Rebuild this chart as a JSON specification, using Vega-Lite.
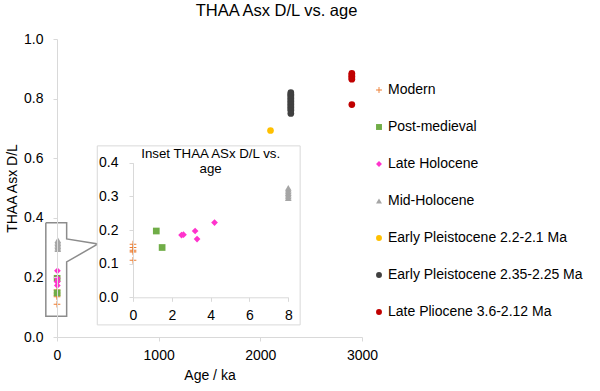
{
  "$schema": "https://vega.github.io/schema/vega-lite/v6.json",
  "width": 305,
  "height": 298,
  "autosize": {"type": "none"},
  "padding": {"left": 57, "top": 39, "right": 238, "bottom": 54},
  "background": "white",
  "config": {
    "font": "Liberation Sans",
    "view": {"stroke": null},
    "axis": {
      "grid": false,
      "domainColor": "#d9d9d9",
      "tickColor": "#d9d9d9",
      "tickSize": 4,
      "labelFontSize": 14,
      "labelColor": "#000000",
      "titleFontSize": 14,
      "titleFontWeight": "normal",
      "titleColor": "#000000",
      "labelFont": "Liberation Sans",
      "titleFont": "Liberation Sans",
      "labelFlush": false,
      "labelOverlap": false,
      "zindex": 2
    },
    "legend": {
      "orient": "none",
      "legendX": 315,
      "legendY": 44,
      "labelFontSize": 14,
      "labelColor": "#000000",
      "labelFont": "Liberation Sans",
      "labelLimit": 0,
      "symbolSize": 35,
      "rowPadding": 23,
      "labelOffset": 2,
      "padding": 0
    }
  },
  "title": {
    "text": "THAA Asx D/L vs. age",
    "fontSize": 16.5,
    "fontWeight": "normal",
    "font": "Liberation Sans",
    "color": "#000000",
    "dx": 67,
    "offset": 13
  },
  "datasets": {
    "points": [
      {"series": "Modern", "age": 0, "dl": 0.158},
      {"series": "Modern", "age": 0, "dl": 0.148},
      {"series": "Modern", "age": 0, "dl": 0.14},
      {"series": "Modern", "age": 0, "dl": 0.135},
      {"series": "Modern", "age": 0, "dl": 0.11},
      {"series": "Post-medieval", "age": 1.2, "dl": 0.197},
      {"series": "Post-medieval", "age": 1.5, "dl": 0.148},
      {"series": "Late Holocene", "age": 2.5, "dl": 0.185},
      {"series": "Late Holocene", "age": 2.6, "dl": 0.186},
      {"series": "Late Holocene", "age": 3.2, "dl": 0.197},
      {"series": "Late Holocene", "age": 3.3, "dl": 0.173},
      {"series": "Late Holocene", "age": 4.2, "dl": 0.222},
      {"series": "Mid-Holocene", "age": 8, "dl": 0.295},
      {"series": "Mid-Holocene", "age": 8, "dl": 0.3},
      {"series": "Mid-Holocene", "age": 8, "dl": 0.305},
      {"series": "Mid-Holocene", "age": 8, "dl": 0.31},
      {"series": "Mid-Holocene", "age": 8, "dl": 0.315},
      {"series": "Mid-Holocene", "age": 8, "dl": 0.32},
      {"series": "Mid-Holocene", "age": 8, "dl": 0.325},
      {"series": "Early Pleistocene 2.2-2.1 Ma", "age": 2100, "dl": 0.693},
      {"series": "Early Pleistocene 2.35-2.25 Ma", "age": 2300, "dl": 0.75},
      {"series": "Early Pleistocene 2.35-2.25 Ma", "age": 2300, "dl": 0.76},
      {"series": "Early Pleistocene 2.35-2.25 Ma", "age": 2300, "dl": 0.765},
      {"series": "Early Pleistocene 2.35-2.25 Ma", "age": 2300, "dl": 0.77},
      {"series": "Early Pleistocene 2.35-2.25 Ma", "age": 2300, "dl": 0.775},
      {"series": "Early Pleistocene 2.35-2.25 Ma", "age": 2300, "dl": 0.78},
      {"series": "Early Pleistocene 2.35-2.25 Ma", "age": 2300, "dl": 0.785},
      {"series": "Early Pleistocene 2.35-2.25 Ma", "age": 2300, "dl": 0.79},
      {"series": "Early Pleistocene 2.35-2.25 Ma", "age": 2300, "dl": 0.795},
      {"series": "Early Pleistocene 2.35-2.25 Ma", "age": 2300, "dl": 0.8},
      {"series": "Early Pleistocene 2.35-2.25 Ma", "age": 2300, "dl": 0.805},
      {"series": "Early Pleistocene 2.35-2.25 Ma", "age": 2300, "dl": 0.81},
      {"series": "Early Pleistocene 2.35-2.25 Ma", "age": 2300, "dl": 0.815},
      {"series": "Early Pleistocene 2.35-2.25 Ma", "age": 2300, "dl": 0.82},
      {"series": "Late Pliocene 3.6-2.12 Ma", "age": 2900, "dl": 0.78},
      {"series": "Late Pliocene 3.6-2.12 Ma", "age": 2900, "dl": 0.865},
      {"series": "Late Pliocene 3.6-2.12 Ma", "age": 2900, "dl": 0.87},
      {"series": "Late Pliocene 3.6-2.12 Ma", "age": 2900, "dl": 0.875},
      {"series": "Late Pliocene 3.6-2.12 Ma", "age": 2900, "dl": 0.88},
      {"series": "Late Pliocene 3.6-2.12 Ma", "age": 2900, "dl": 0.885}
    ],
    "callout": [
      {"i": 0, "x": -110, "y": 0.383},
      {"i": 1, "x": 95, "y": 0.383},
      {"i": 2, "x": 95, "y": 0.329},
      {"i": 3, "x": 403, "y": 0.312},
      {"i": 4, "x": 95, "y": 0.252},
      {"i": 5, "x": 95, "y": 0.07},
      {"i": 6, "x": -110, "y": 0.07},
      {"i": 7, "x": -110, "y": 0.383}
    ]
  },
  "resolve": {"scale": {"x": "independent", "y": "independent"}, "axis": {"x": "independent", "y": "independent"}},
  "layer": [
    {
      "layer": [
        {
          "data": {"name": "callout"},
          "mark": {"type": "line", "color": "#8c8c8c", "strokeWidth": 1.5},
          "encoding": {
            "x": {"field": "x", "type": "quantitative", "scale": {"domain": [0, 3000], "nice": false, "zero": false},
              "axis": {"orient": "bottom", "title": "Age / ka", "values": [0, 1000, 2000, 3000], "format": "d", "labelPadding": 7, "titlePadding": 6, "zindex": 2}},
            "y": {"field": "y", "type": "quantitative", "scale": {"domain": [0, 1], "nice": false, "zero": false},
              "axis": {"orient": "left", "title": "THAA Asx D/L", "values": [0, 0.2, 0.4, 0.6, 0.8, 1.0], "format": ".1f", "labelPadding": 10, "titlePadding": 4, "zindex": 2}},
            "order": {"field": "i", "type": "quantitative"}
          }
        },
        {
          "data": {"name": "points"},
          "mark": {"type": "point", "filled": true, "opacity": 1, "size": 45},
          "encoding": {
            "x": {"field": "age", "type": "quantitative", "scale": {"domain": [0, 3000], "nice": false, "zero": false},
              "axis": {"orient": "bottom", "title": "Age / ka", "values": [0, 1000, 2000, 3000], "format": "d", "labelPadding": 7, "titlePadding": 6, "zindex": 2}},
            "y": {"field": "dl", "type": "quantitative", "scale": {"domain": [0, 1], "nice": false, "zero": false},
              "axis": {"orient": "left", "title": "THAA Asx D/L", "values": [0, 0.2, 0.4, 0.6, 0.8, 1.0], "format": ".1f", "labelPadding": 10, "titlePadding": 4, "zindex": 2}},
            "color": {"field": "series", "type": "nominal", "title": null,
              "scale": {"domain": ["Modern", "Post-medieval", "Late Holocene", "Mid-Holocene", "Early Pleistocene 2.2-2.1 Ma", "Early Pleistocene 2.35-2.25 Ma", "Late Pliocene 3.6-2.12 Ma"],
                "range": ["#ED7D31", "#70AD47", "#FF33CC", "#A5A5A5", "#FFC000", "#404040", "#C00000"]}},
            "shape": {"field": "series", "type": "nominal", "title": null,
              "scale": {"domain": ["Modern", "Post-medieval", "Late Holocene", "Mid-Holocene", "Early Pleistocene 2.2-2.1 Ma", "Early Pleistocene 2.35-2.25 Ma", "Late Pliocene 3.6-2.12 Ma"],
                "range": ["M-1,-0.15H1V0.15H-1Z M-0.15,-1H0.15V1H-0.15Z", "square", "diamond", "triangle-up", "circle", "circle", "circle"]}}
          }
        }
      ]
    },
    {
      "layer": [
        {
          "data": {"values": [{}]},
          "mark": {"type": "rect", "fill": "white", "stroke": "#d9d9d9", "strokeWidth": 1},
          "encoding": {
            "x": {"datum": -1.84, "type": "quantitative", "scale": {"domain": [0, 8], "range": [76, 231.3], "nice": false, "zero": false},
              "axis": {"orient": "bottom", "title": null, "offset": -39.7, "values": [0, 2, 4, 6, 8], "format": "d", "labelPadding": 7, "zindex": 2}},
            "x2": {"datum": 8.61},
            "y": {"datum": 0.45, "type": "quantitative", "scale": {"domain": [0, 0.4], "range": [258.3, 123.7], "nice": false, "zero": false},
              "axis": {"orient": "left", "title": null, "offset": -76, "values": [0, 0.1, 0.2, 0.3, 0.4], "format": ".1f", "labelPadding": 11, "zindex": 2}},
            "y2": {"datum": -0.082}
          }
        },
        {
          "data": {"values": [{}]},
          "mark": {"type": "text", "text": ["Inset THAA ASx D/L vs.", "age"], "fontSize": 13.3, "font": "Liberation Sans", "color": "#000000", "baseline": "top", "align": "center", "lineHeight": 15},
          "encoding": {
            "x": {"datum": 4, "type": "quantitative", "scale": {"domain": [0, 8], "range": [76, 231.3], "nice": false, "zero": false},
              "axis": {"orient": "bottom", "title": null, "offset": -39.7, "values": [0, 2, 4, 6, 8], "format": "d", "labelPadding": 7, "zindex": 2}},
            "y": {"datum": 0.447, "type": "quantitative", "scale": {"domain": [0, 0.4], "range": [258.3, 123.7], "nice": false, "zero": false},
              "axis": {"orient": "left", "title": null, "offset": -76, "values": [0, 0.1, 0.2, 0.3, 0.4], "format": ".1f", "labelPadding": 11, "zindex": 2}}
          }
        },
        {
          "data": {"name": "points"},
          "transform": [{"filter": "datum.age <= 10"}],
          "mark": {"type": "point", "filled": true, "opacity": 1, "size": 45},
          "encoding": {
            "x": {"field": "age", "type": "quantitative", "scale": {"domain": [0, 8], "range": [76, 231.3], "nice": false, "zero": false},
              "axis": {"orient": "bottom", "title": null, "offset": -39.7, "values": [0, 2, 4, 6, 8], "format": "d", "labelPadding": 7, "zindex": 2}},
            "y": {"field": "dl", "type": "quantitative", "scale": {"domain": [0, 0.4], "range": [258.3, 123.7], "nice": false, "zero": false},
              "axis": {"orient": "left", "title": null, "offset": -76, "values": [0, 0.1, 0.2, 0.3, 0.4], "format": ".1f", "labelPadding": 11, "zindex": 2}},
            "color": {"field": "series", "type": "nominal", "title": null,
              "scale": {"domain": ["Modern", "Post-medieval", "Late Holocene", "Mid-Holocene", "Early Pleistocene 2.2-2.1 Ma", "Early Pleistocene 2.35-2.25 Ma", "Late Pliocene 3.6-2.12 Ma"],
                "range": ["#ED7D31", "#70AD47", "#FF33CC", "#A5A5A5", "#FFC000", "#404040", "#C00000"]}},
            "shape": {"field": "series", "type": "nominal", "title": null,
              "scale": {"domain": ["Modern", "Post-medieval", "Late Holocene", "Mid-Holocene", "Early Pleistocene 2.2-2.1 Ma", "Early Pleistocene 2.35-2.25 Ma", "Late Pliocene 3.6-2.12 Ma"],
                "range": ["M-1,-0.15H1V0.15H-1Z M-0.15,-1H0.15V1H-0.15Z", "square", "diamond", "triangle-up", "circle", "circle", "circle"]}}
          }
        }
      ]
    }
  ]
}
